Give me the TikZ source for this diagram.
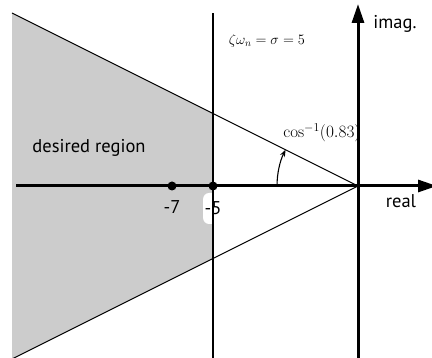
\documentclass[tikz,border=0pt]{standalone}
\usepackage{amsmath}
\usepackage{fontspec}
\setsansfont{PT Sans}
\usetikzlibrary{arrows.meta}
\tikzset{
  axis/.style={line width=3pt, -{Triangle[length=19pt,width=12pt]}},
  thin line/.style={line width=1.1pt},
  lbl/.style={font=\sffamily\fontsize{18.5}{21}\selectfont},
  mathlbl/.style={font=\fontsize{14}{17}\selectfont},
  pole/.style={circle, fill=black, inner sep=0pt, minimum size=9pt}
}
\begin{document}
\begin{tikzpicture}[x=1pt, y=1pt]
            \useasboundingbox (0,0) rectangle (432,358);
            \coordinate (O) at (358,172);
            \coordinate (ul) at (12,345);
            \coordinate (ll) at (12,-1);
            \coordinate (vt) at (213,345);
            \coordinate (vb) at (213,0);
            \fill[black!20] (ul) -- (213,244.5) -- (213,99.5) -- (ll) -- cycle;
            \node[lbl, fill=white, rounded corners=6pt, inner sep=1.5pt, minimum height=31pt] (l5) at (213,149.5) {-5};
            \draw[thin line] (ul) -- (O) -- (ll);
            \draw[thin line] (vb) -- (vt);
            \draw[axis] (16,172) -- (437,172) coordinate (re);
            \draw[axis] (358,0) -- (358,354) coordinate (im);
            \node[pole] (p7) at (172,172) {};
            \node[pole] (p5) at (213,172) {};
            \node[lbl] (l7) at (172,151) {-7};
            \node[lbl] at (401,157) {real};
            \node[lbl] at (395,334) {imag.};
            \node[lbl] at (89,210) {desired region};
            \node[mathlbl] at (267,317) {\(\zeta\omega_n = \sigma = 5\)};
            \node[mathlbl, font=\fontsize{17}{20}\selectfont] at (322,225) {\(\cos^{-1}(0.83)\)};
            \draw[thin line, -{Stealth[length=7pt]}] (277,172) arc[start angle=180, end angle=153.4, radius=81];
        \end{tikzpicture}
\end{document}
